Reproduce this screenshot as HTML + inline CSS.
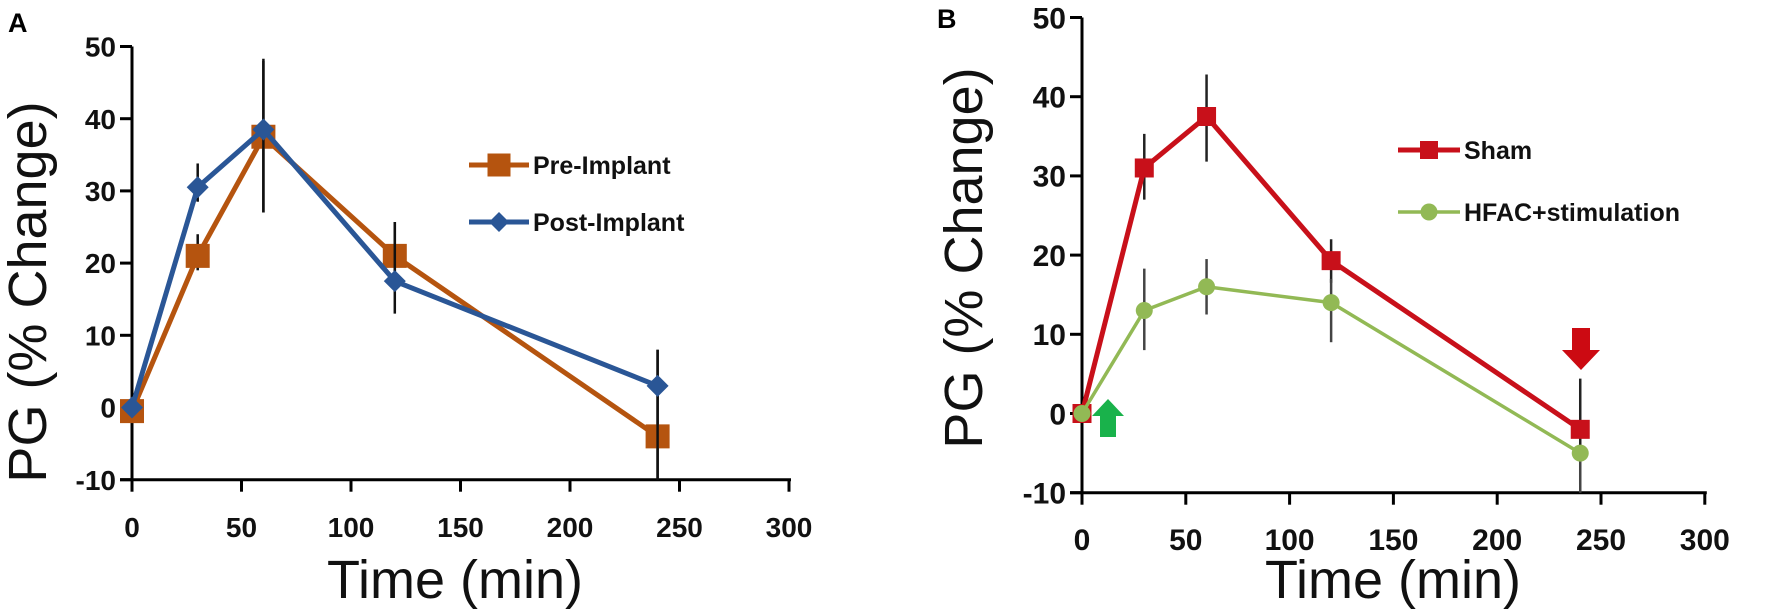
<!DOCTYPE html>
<html><head><meta charset="utf-8">
<style>
html,body{margin:0;padding:0;background:#fff;}
svg{display:block;font-family:"Liberation Sans",sans-serif;}
</style></head>
<body>
<svg id="fig" width="1772" height="615" viewBox="0 0 1772 615"></svg>
<script>
const xTicks=[0,50,100,150,200,250,300];
const yTicks=[-10,0,10,20,30,40,50];
const timesA=[0,30,60,120,240];
const preVals=[-0.5,21,37.5,21,-4];
const preLo=[-0.5,19,27,16.5,-10];
const preHi=[-0.5,24,48,25.7,8];
const postVals=[0,30.5,38.5,17.5,3];
const postLo=[0,28.5,27,13,-10];
const postHi=[0,33.8,48.3,25.7,8];
const timesB=[0,30,60,120,240];
const shamVals=[0,31,37.5,19.3,-2];
const shamLo=[0,27,31.8,16.5,-9];
const shamHi=[0,35.3,42.8,22,4.4];
const hfacVals=[0,13,16,14,-5];
const hfacLo=[0,8,12.5,9,-10];
const hfacHi=[0,18.3,19.5,17,-5];

const NS="http://www.w3.org/2000/svg";
const svg=document.getElementById('fig');
function mk(tag,attrs,parent){const e=document.createElementNS(NS,tag);for(const k in attrs)e.setAttribute(k,attrs[k]);(parent||svg).appendChild(e);return e;}

function panel(cfg){
  const g=mk('g',{});
  
  
  const X=v=>cfg.x0+v*cfg.sx;
  const Y=v=>cfg.y0-v*cfg.sy;
  const yb=Y(-10);
  const ya=mk('line',{x1:X(0),y1:Y(50),x2:X(0),y2:yb,stroke:'#000','stroke-width':3},g);
  
  
  const xa=mk('line',{x1:X(0)-12,y1:yb,x2:X(300)+2,y2:yb,stroke:'#000','stroke-width':3},g);
  
  
  yTicks.forEach(v=>{
    mk('line',{x1:X(0)-12,y1:Y(v),x2:X(0),y2:Y(v),stroke:'#000','stroke-width':3},g);
    const t=mk('text',{x:X(0)-16,y:Y(v)+cfg.tf*0.36,'text-anchor':'end','font-size':cfg.tf,'font-weight':'bold',fill:'#111'},g);
    t.textContent=v;
    
    
  });
  xTicks.forEach(v=>{
    mk('line',{x1:X(v),y1:yb,x2:X(v),y2:yb+12,stroke:'#000','stroke-width':3},g);
    const t=mk('text',{x:X(v),y:cfg.xlabY,'text-anchor':'middle','font-size':cfg.tf,'font-weight':'bold',fill:'#111'},g);
    t.textContent=v;
    
    
  });
  const xt=mk('text',{x:cfg.xtX,y:cfg.xtY,'text-anchor':'middle','font-size':54,fill:'#111'},g);
  xt.textContent='Time (min)';
  
  
  const yt=mk('text',{x:0,y:0,'text-anchor':'middle','font-size':54,fill:'#111',transform:`translate(${cfg.ytX},${cfg.ytY}) rotate(-90)`},g);
  yt.textContent='PG (% Change)';
  
  
  const pl=mk('text',{x:cfg.plX,y:cfg.plY,'font-size':27,'font-weight':'bold',fill:'#000'},g);
  pl.textContent=cfg.letter;
  
  
  return {g,X,Y};
}

function marker(g,type,x,y,color,size){
  if(type==='square') return mk('rect',{x:x-size/2,y:y-size/2,width:size,height:size,fill:color},g);
  if(type==='diamond') return mk('polygon',{points:`${x},${y-size/2} ${x+size/2},${y} ${x},${y+size/2} ${x-size/2},${y}`,fill:color},g);
  return mk('circle',{cx:x,cy:y,r:size/2,fill:color},g);
}

function series(p,name,times,vals,lo,hi,color,width,type,size,errColor){
  const g=mk('g',{},p.g);
  
  
  times.forEach((t,i)=>{
    if(hi[i]!==lo[i]){
      const e=mk('line',{x1:p.X(t),y1:p.Y(hi[i]),x2:p.X(t),y2:p.Y(lo[i]),stroke:errColor,'stroke-width':2.5},g);
      
      
    }
  });
  const pts=times.map((t,i)=>p.X(t)+','+p.Y(vals[i])).join(' ');
  const l=mk('polyline',{points:pts,fill:'none',stroke:color,'stroke-width':width,'stroke-linejoin':'round'},g);
  
  
  times.forEach((t,i)=>{
    const m=marker(g,type,p.X(t),p.Y(vals[i]),color,size);
    
    
  });
}

function legend(p,name,x1,x2,y,label,color,width,type,size){
  const g=mk('g',{},p.g);
  
  
  mk('line',{x1:x1,y1:y,x2:x2,y2:y,stroke:color,'stroke-width':width},g);
  marker(g,type,(x1+x2)/2,y,color,size);
  const t=mk('text',{x:x2+4,y:y+9,'font-size':25,'font-weight':'bold',fill:'#111'},g);
  t.textContent=label;
}

const A=panel({name:'panel-a',letter:'A',x0:132,sx:2.19,y0:407.5,sy:7.22,tf:28,xlabY:537,xtX:455,xtY:598,ytX:46,ytY:292,plX:8,plY:32});
series(A,'series-pre-implant',timesA,preVals,preLo,preHi,'#b5540f',5,'square',24,'#111');
series(A,'series-post-implant',timesA,postVals,postLo,postHi,'#2a5696',5,'diamond',22,'#111');
legend(A,'legend-pre-implant',469,529,165,'Pre-Implant','#b5540f',5,'square',23);
legend(A,'legend-post-implant',469,529,222,'Post-Implant','#2a5696',5,'diamond',20);

const B=panel({name:'panel-b',letter:'B',x0:1082,sx:2.076,y0:413.5,sy:7.92,tf:30,xlabY:550,xtX:1393,xtY:598,ytX:982,ytY:258,plX:937,plY:28});
series(B,'series-sham',timesB,shamVals,shamLo,shamHi,'#c8101a',5,'square',19,'#222');
series(B,'series-hfac-stimulation',timesB,hfacVals,hfacLo,hfacHi,'#92b955',3.5,'circle',17,'#444');
legend(B,'legend-sham',1398,1460,150,'Sham','#c8101a',5,'square',18);
legend(B,'legend-hfac-stimulation',1398,1460,212,'HFAC+stimulation','#92b955',3.5,'circle',17);

const ga=mk('polygon',{points:'1108,399 1124,416 1116,416 1116,437 1100,437 1100,416 1092,416',fill:'#19b24b'},B.g);


const ra=mk('polygon',{points:'1572,328 1590,328 1590,350 1600,350 1581,370 1562,350 1572,350',fill:'#cc0a12'},B.g);


</script>
</body></html>
